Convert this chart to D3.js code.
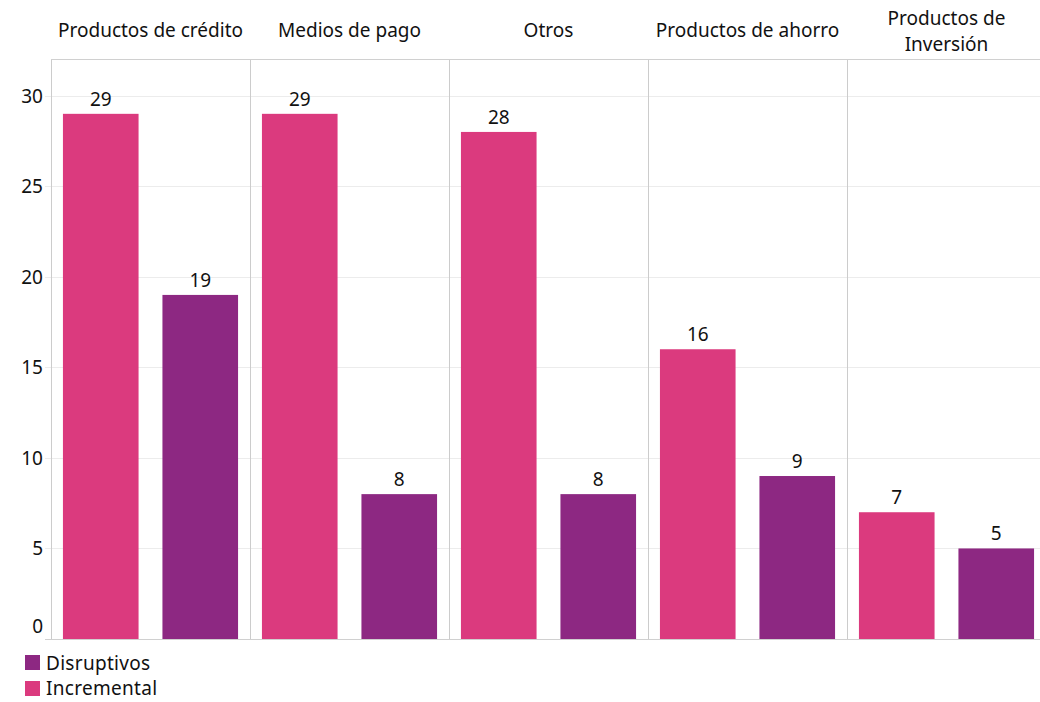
<!DOCTYPE html>
<html><head><meta charset="utf-8">
<script src="https://cdn.jsdelivr.net/npm/d3@7"></script>
<style>body{margin:0;background:#fff}svg{display:block}text{font-family:"Noto Sans",sans-serif;fill:#111}</style>
</head><body><svg id="c" width="1040" height="702"></svg>
<script>
const categories = ["Productos de crédito","Medios de pago","Otros","Productos de ahorro","Productos de Inversión"];
const series = ["Incremental","Disruptivos"];
const incremental = [29,29,28,16,7];
const disruptivos = [19,8,8,9,5];
const yTicks = [0,5,10,15,20,25,30];
const legendItems = ["Disruptivos","Incremental"];
const colors = {Incremental:"#db3a7e", Disruptivos:"#8d2882"};

(function(){
const svg = d3.select("#c");
const mLeft = 51, mTop = 59.5, mBottom = 639, panelW = 199, fs = 19;
const y = d3.scaleLinear().domain([0,32]).range([mBottom, mTop]);
const xPanel = d3.scaleBand().domain(categories).range([mLeft, mLeft + panelW*categories.length]);
const xInner = d3.scaleBand().domain(series).range([0, panelW]).paddingInner(0.24).paddingOuter(0.12);

// grid
svg.selectAll("line.grid").data(yTicks.filter(d=>d>0)).join("line")
  .attr("x1", mLeft-6).attr("x2", 1040).attr("y1", d=>Math.round(y(d))+0.5).attr("y2", d=>Math.round(y(d))+0.5)
  .attr("stroke","#ececec").attr("stroke-width",1);

// bars
const data = [];
categories.forEach((c,i)=>{ data.push({c,s:"Incremental",v:incremental[i]}); data.push({c,s:"Disruptivos",v:disruptivos[i]}); });
svg.selectAll("rect.bar").data(data).join("rect")
  .attr("x", d=>xPanel(d.c)+xInner(d.s)).attr("width", xInner.bandwidth())
  .attr("y", d=>y(d.v)).attr("height", d=>y(0)-y(d.v))
  .attr("fill", d=>colors[d.s]);
svg.selectAll("text.val").data(data).join("text")
  .attr("x", d=>xPanel(d.c)+xInner(d.s)+xInner.bandwidth()/2).attr("y", d=>y(d.v)-8)
  .attr("text-anchor","middle").attr("font-size",fs).text(d=>d.v);

// panel borders
svg.selectAll("line.sep").data(categories).join("line")
  .attr("x1", d=>Math.round(xPanel(d))+0.5).attr("x2", d=>Math.round(xPanel(d))+0.5)
  .attr("y1", mTop).attr("y2", mBottom).attr("stroke","#cccccc");
svg.append("line").attr("x1",mLeft).attr("x2",1040).attr("y1",mTop).attr("y2",mTop).attr("stroke","#d0d0d0");
svg.append("line").attr("x1",mLeft-6).attr("x2",1040).attr("y1",mBottom+0.5).attr("y2",mBottom+0.5).attr("stroke","#d0d0d0");

// y labels
svg.selectAll("text.yl").data(yTicks).join("text")
  .attr("x", 43).attr("y", d=> d===0 ? y(d)-6 : y(d)+7)
  .attr("text-anchor","end").attr("font-size",fs).text(d=>d);

// headers
const headerLines = {"Productos de Inversión":["Productos de","Inversión"]};
categories.forEach(c=>{
  const lines = headerLines[c] || [c];
  const cx = xPanel(c) + panelW/2;
  const t = svg.append("text").attr("text-anchor","middle").attr("font-size",fs);
  if (lines.length===1) t.append("tspan").attr("x",cx).attr("y",37).text(lines[0]);
  else lines.forEach((l,i)=>t.append("tspan").attr("x",cx).attr("y",25+i*26).text(l));
});

// legend
legendItems.forEach((s,i)=>{
  svg.append("rect").attr("x",25).attr("y",655+i*26).attr("width",15).attr("height",15).attr("fill",colors[s]);
  svg.append("text").attr("x",46).attr("y",670+i*25).attr("font-size",fs).attr("letter-spacing",0.3).text(s);
});
})();
</script></body></html>
